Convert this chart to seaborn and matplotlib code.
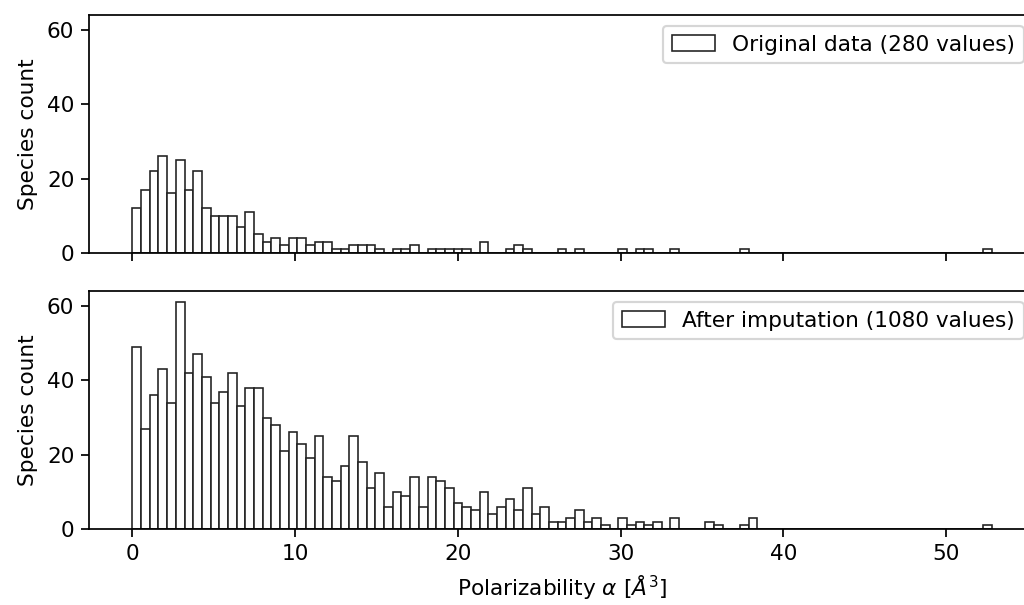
import numpy as np
import pandas as pd
import matplotlib
matplotlib.use("Agg")
import matplotlib.pyplot as plt
import seaborn as sns

# 99 equal bins between 0 and the largest value (~52.8)
bin_edges = np.linspace(0, 52.8, 100)

# bin counts, original data (280 values)
original_counts = [
    12, 17, 22, 26, 16, 25, 17, 22, 12, 10,
    10, 10, 7, 11, 5, 3, 4, 2, 4, 4,
    2, 3, 3, 1, 1, 2, 2, 2, 1, 0,
    1, 1, 2, 0, 1, 1, 1, 1, 1, 0,
    3, 0, 0, 1, 2, 1, 0, 0, 0, 1,
    0, 1, 0, 0, 0, 0, 1, 0, 1, 1,
    0, 0, 1, 0, 0, 0, 0, 0, 0, 0,
    1, 0, 0, 0, 0, 0, 0, 0, 0, 0,
    0, 0, 0, 0, 0, 0, 0, 0, 0, 0,
    0, 0, 0, 0, 0, 0, 0, 0, 1,
]

# bin counts after imputation (1080 values)
imputed_counts = [
    49, 27, 36, 43, 34, 61, 42, 47, 41, 34,
    37, 42, 33, 38, 38, 30, 28, 21, 26, 23,
    19, 25, 14, 13, 17, 25, 18, 11, 15, 6,
    10, 9, 14, 6, 14, 13, 11, 7, 6, 5,
    10, 4, 6, 8, 5, 11, 4, 6, 2, 2,
    3, 5, 2, 3, 1, 0, 3, 1, 2, 1,
    2, 0, 3, 0, 0, 0, 2, 1, 0, 0,
    1, 3, 0, 0, 0, 0, 0, 0, 0, 0,
    0, 0, 0, 0, 0, 0, 0, 0, 0, 0,
    0, 0, 0, 0, 0, 0, 0, 0, 1,
]

labels = ["Original data (280 values)", "After imputation (1080 values)"]

bin_centers = (bin_edges[:-1] + bin_edges[1:]) / 2

dpi = 156
fig, axs = plt.subplots(2, 1, figsize=(1024 / dpi, 605 / dpi), dpi=dpi,
                        sharex=True, sharey=True)
# right edge of the axes falls just outside the picture, as in the original
fig.subplots_adjust(left=0.0874, right=1.0103, top=0.9752, bottom=0.1256, hspace=0.1607)

for ax, counts, label in zip(axs, [original_counts, imputed_counts], labels):
    df = pd.DataFrame({"alpha": bin_centers, "count": counts})
    sns.histplot(data=df, x="alpha", weights="count", bins=list(bin_edges), ax=ax,
                 color="white", edgecolor="#222222", linewidth=0.75, alpha=1,
                 label=label)
    ax.set_ylabel("Species count")
    ax.set_xlabel("")
    ax.legend(loc="upper right")

axs[1].set_yticks([0, 20, 40, 60])
axs[1].set_xlabel(r"Polarizability $\alpha$ [$\AA^3$]")

fig.savefig("out.png", dpi=dpi)
